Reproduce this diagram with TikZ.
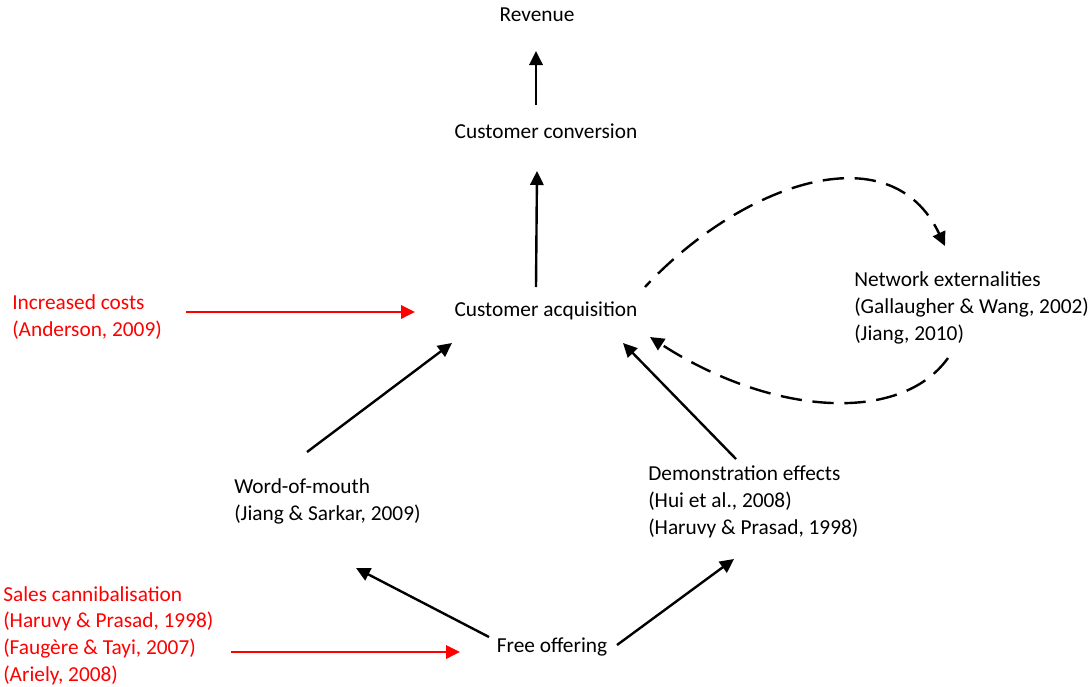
\documentclass[tikz,border=0pt]{standalone}
\usepackage{fontspec}
\setmainfont{Carlito}
\usetikzlibrary{arrows.meta,calc}
\tikzset{
  txt/.style={inner sep=0pt, font=\fontsize{16}{19.9}\selectfont, align=left},
  link/.style={line width=1.8pt, -{Triangle[length=10.5pt,width=10pt]}},
  feedback/.style={link, dash pattern=on 16pt off 8pt},
}
\begin{document}
\begin{tikzpicture}[x=0.75pt,y=-0.75pt]

\def\COSTCOLOR{red}
\def\LINKCOLOR{black}
	\useasboundingbox (0,0) rectangle (1089,686);
	\node[txt, anchor=base] (rev) at (537,21) {Revenue};
	\node[txt, anchor=base] (conv) at (546,138) {Customer conversion};
	\node[txt, anchor=base] (acq) at (546,316) {Customer acquisition};
	\node[txt, anchor=base west] (net) at (854,340) {Network externalities\\(Gallaugher \& Wang, 2002)\\(Jiang, 2010)};
	\node[txt, anchor=base west, \COSTCOLOR] (costs) at (12,336) {Increased costs\\(Anderson, 2009)};
	\node[txt, anchor=base west] (wom) at (234,520) {Word-of-mouth\\(Jiang \& Sarkar, 2009)};
	\node[txt, anchor=base west] (demo) at (648,534) {Demonstration effects\\(Hui et al., 2008)\\(Haruvy \& Prasad, 1998)};
	\node[txt, anchor=base west, \COSTCOLOR] (sales) at (3,681) {Sales cannibalisation\\(Haruvy \& Prasad, 1998)\\(Faugère \& Tayi, 2007)\\(Ariely, 2008)};
	\node[txt, anchor=base] (free) at (552,652) {Free offering};

	\draw[link,\LINKCOLOR] ($(conv.base)+(-10,-33)$) -- ($(rev.base)+(-1,30)$);
	\draw[link,\LINKCOLOR] ($(acq.base)+(-10,-29)$) -- ($(conv.base)+(-9,33)$);
	\draw[link,\COSTCOLOR] ($(costs.base west)+(174,-24)$) -- ($(acq.base)+(-131,-4)$);
	\draw[link,\LINKCOLOR] ($(wom.base west)+(73,-68)$) -- ($(acq.base)+(-94,27)$);
	\draw[link,\LINKCOLOR] ($(demo.base west)+(88,-75)$) -- ($(acq.base)+(77,27)$);
	\draw[link,\LINKCOLOR] ($(free.base)+(-63,-15)$) -- ($(wom.base west)+(122,48)$);
	\draw[link,\LINKCOLOR] ($(free.base)+(65,-7)$) -- ($(demo.base west)+(86,25)$);
	\draw[link,\COSTCOLOR] ($(sales.base west)+(228,-29)$) -- ($(free.base)+(-92,0)$);
	\draw[feedback,\LINKCOLOR,dash phase=10pt] ($(acq.base)+(99,-29)$) .. controls +(95,-102) and +(-55,-116) .. ($(net.base west)+(91,-94)$);
	\draw[feedback,\LINKCOLOR] ($(net.base west)+(94,18)$) .. controls +(-48,67) and +(120,78) .. ($(acq.base)+(104,21)$);

\end{tikzpicture}
\end{document}
